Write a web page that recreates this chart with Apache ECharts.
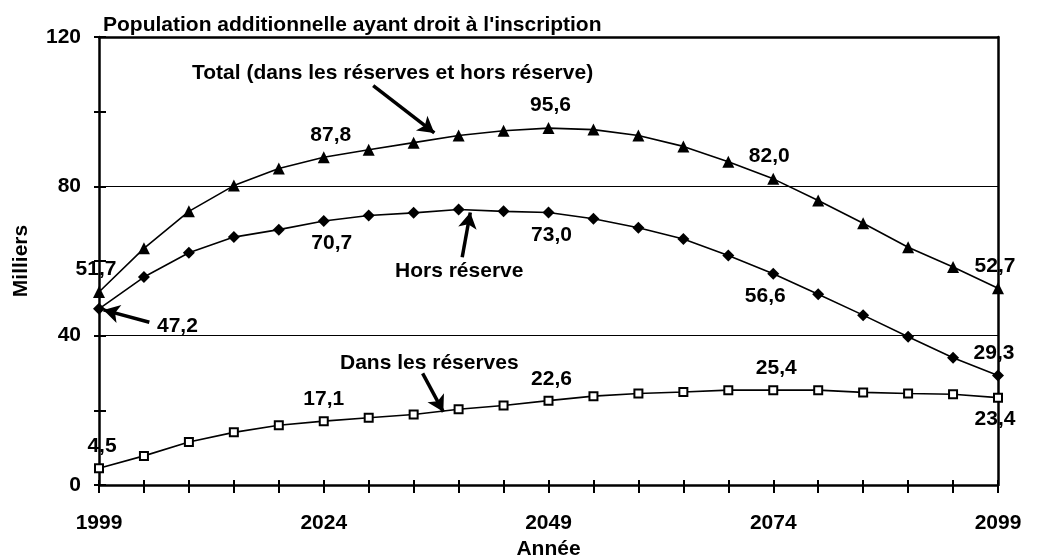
<!DOCTYPE html>
<html>
<head>
<meta charset="utf-8">
<script src="https://cdn.jsdelivr.net/npm/echarts@6/dist/echarts.min.js"></script>
<style>
  html, body { margin: 0; padding: 0; background: #fff; }
  #chart { width: 1038px; height: 559px; }
</style>
</head>
<body>
<div id="chart"></div>
<script>
// données (milliers)
const years = [1999, 2004, 2009, 2014, 2019, 2024, 2029, 2034, 2039, 2044, 2049,
               2054, 2059, 2064, 2069, 2074, 2079, 2084, 2089, 2094, 2099];
const total = [51.7, 63.4, 73.3, 80.2, 84.8, 87.8, 89.8, 91.7, 93.6, 94.9, 95.6,
               95.2, 93.6, 90.7, 86.6, 82.0, 76.2, 70.1, 63.7, 58.4, 52.7];
const horsReserve = [47.2, 55.7, 62.2, 66.4, 68.4, 70.7, 72.2, 72.9, 73.8, 73.3, 73.0,
                     71.3, 68.9, 65.9, 61.5, 56.6, 51.1, 45.5, 39.7, 34.1, 29.3];
const dansReserves = [4.5, 7.8, 11.5, 14.1, 16.0, 17.1, 18.0, 18.9, 20.3, 21.3, 22.6,
                      23.8, 24.5, 24.9, 25.4, 25.4, 25.4, 24.8, 24.5, 24.3, 23.4];
const yTicks = [0, 40, 80, 120];

const FONT = 'Liberation Sans';
const FS = 21;
const fmt = v => v.toFixed(1).replace('.', ',');

// où placer les étiquettes de valeurs (index -> position)
const totalLabels = { 0: ['top', [-3, 0]], 5: ['top', [7, 0]], 10: ['top', [2, 0]], 15: ['top', [-4, 0]], 20: ['top', [-3, 0]] };
const horsLabels = { 0: ['right', [46, 17]], 5: ['bottom', [8, 0]], 10: ['bottom', [3, 0]], 15: ['bottom', [-8, 0]], 20: ['top', [-4, 0]] };
const dansLabels = { 0: ['top', [3, 0]], 5: ['top', [0, 0]], 10: ['top', [3, 0]], 15: ['top', [3, 0]], 20: ['bottom', [-3, 0]] };

function withLabels(values, labels) {
  return values.map((v, i) => {
    const l = labels[i];
    if (!l) return v;
    return {
      value: v,
      label: { show: true, position: l[0], offset: l[1], distance: 6, formatter: () => fmt(v) }
    };
  });
}

const labelStyle = { color: '#000', fontFamily: FONT, fontWeight: 'bold', fontSize: FS };
const textFont = 'bold ' + FS + 'px "Liberation Sans"';

const chart = echarts.init(document.getElementById('chart'));

const arrowLine = (a, b) => [{ coord: a }, { coord: b }];

const option = {
  animation: false,
  backgroundColor: '#fff',
  title: {
    text: "Population additionnelle ayant droit à l'inscription",
    left: 98,
    top: 10,
    textStyle: { color: '#000', fontFamily: FONT, fontWeight: 'bold', fontSize: FS }
  },
  grid: { left: 99, right: 40, top: 37, bottom: 74, containLabel: false, outerBoundsMode: 'none' },
  xAxis: [
    {
      type: 'category',
      position: 'bottom',
      data: years,
      boundaryGap: false,
      name: 'Année',
      nameLocation: 'middle',
      nameGap: 53,
      nameTextStyle: labelStyle,
      axisLine: { onZero: false, lineStyle: { color: '#000', width: 2.5 } },
      axisTick: { interval: 0, length: 8, lineStyle: { color: '#000', width: 2 } },
      axisLabel: { interval: 4, margin: 28, ...labelStyle },
      splitLine: { show: false }
    },
    {
      type: 'category',
      position: 'bottom',
      data: years,
      boundaryGap: false,
      axisLine: { show: false, onZero: false },
      axisTick: { inside: true, interval: 0, length: 5, lineStyle: { color: '#000', width: 2 } },
      axisLabel: { show: false },
      splitLine: { show: false }
    },
    {
      type: 'category',
      position: 'top',
      data: years,
      boundaryGap: false,
      axisLine: { onZero: false, lineStyle: { color: '#000', width: 2.5 } },
      axisTick: { show: false },
      axisLabel: { show: false },
      splitLine: { show: false }
    },
    {
      // axe de valeurs invisible pour les flèches d'annotation
      type: 'value',
      position: 'top',
      min: 1999,
      max: 2099,
      show: false
    }
  ],
  yAxis: [
    {
      type: 'value',
      position: 'left',
      min: 0,
      max: 120,
      interval: 20,
      name: 'Milliers',
      nameLocation: 'middle',
      nameGap: 67,
      nameRotate: 90,
      nameTextStyle: labelStyle,
      axisLine: { show: true, onZero: false, lineStyle: { color: '#000', width: 2.5 } },
      axisTick: { show: true, length: 5, lineStyle: { color: '#000', width: 2 } },
      axisLabel: {
        margin: 18,
        ...labelStyle,
        formatter: v => (yTicks.includes(v) ? String(v) : '')
      },
      splitLine: { show: false }
    },
    {
      type: 'value',
      position: 'left',
      min: 0,
      max: 120,
      interval: 20,
      axisLine: { show: false, onZero: false },
      axisTick: { show: true, inside: true, length: 7, lineStyle: { color: '#000', width: 2 } },
      axisLabel: { show: false },
      splitLine: { show: false }
    },
    {
      type: 'value',
      position: 'right',
      min: 0,
      max: 120,
      interval: 40,
      axisLine: { show: true, onZero: false, lineStyle: { color: '#000', width: 2.5 } },
      axisTick: { show: false },
      axisLabel: { show: false },
      splitLine: { show: true, lineStyle: { color: '#000', width: 1.2 } }
    }
  ],
  graphic: [
    { type: 'text', left: 192, top: 63, style: { text: 'Total (dans les réserves et hors réserve)', fill: '#000', font: textFont } },
    { type: 'text', left: 395, top: 261, style: { text: 'Hors réserve', fill: '#000', font: textFont } },
    { type: 'text', left: 340, top: 353, style: { text: 'Dans les réserves', fill: '#000', font: textFont } }
  ],
  series: [
    {
      name: 'Total (dans les réserves et hors réserve)',
      type: 'line',
      data: withLabels(total, totalLabels),
      symbol: 'triangle',
      symbolSize: 12,
      itemStyle: { color: '#000' },
      lineStyle: { color: '#000', width: 1.6 },
      label: labelStyle,
      z: 5
    },
    {
      name: 'Hors réserve',
      type: 'line',
      data: withLabels(horsReserve, horsLabels),
      symbol: 'diamond',
      symbolSize: 12,
      itemStyle: { color: '#000' },
      lineStyle: { color: '#000', width: 1.6 },
      label: labelStyle,
      z: 5
    },
    {
      name: 'Dans les réserves',
      type: 'line',
      data: withLabels(dansReserves, dansLabels),
      symbol: 'rect',
      symbolSize: 8,
      itemStyle: { color: '#fff', borderColor: '#000', borderWidth: 2 },
      lineStyle: { color: '#000', width: 1.6 },
      label: labelStyle,
      z: 5
    },
    {
      // flèches qui relient les noms et étiquettes aux courbes
      type: 'line',
      xAxisIndex: 3,
      yAxisIndex: 0,
      data: [],
      markLine: {
        silent: true,
        symbol: ['none', 'arrow'],
        symbolSize: [14, 16],
        label: { show: false },
        lineStyle: { color: '#000', width: 3.5, type: 'solid' },
        data: [
          arrowLine([2029.5, 107.0], [2036.3, 94.3]),
          arrowLine([2039.4, 61.0], [2040.3, 73.0]),
          arrowLine([2035.0, 29.9], [2037.3, 19.6]),
          arrowLine([2004.6, 43.6], [1999.5, 46.9])
        ]
      }
    }
  ]
};

chart.setOption(option);
</script>
</body>
</html>
